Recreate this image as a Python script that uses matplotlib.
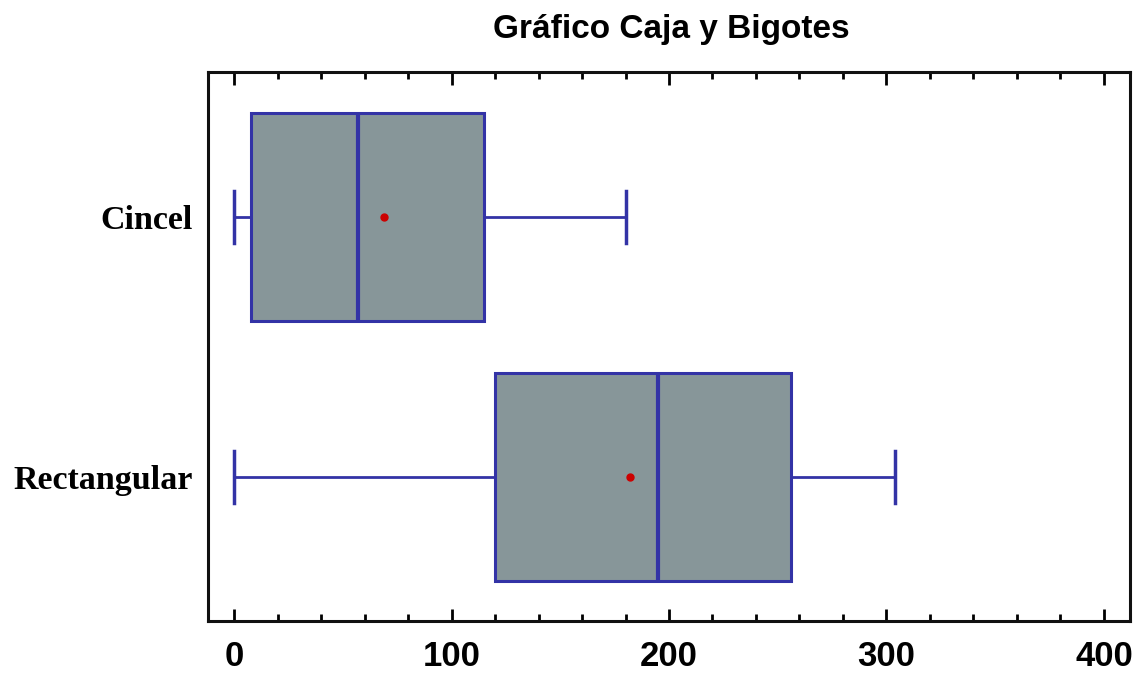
import matplotlib
matplotlib.use("Agg")
import matplotlib.pyplot as plt
from matplotlib.ticker import MultipleLocator

# box-plot summary
groups = ["Rectangular", "Cincel"]
whisker_low = [0, 0]
q1 = [120, 8]
medians = [195, 57]
q3 = [256, 115]
whisker_high = [304, 180]
means = [182, 69]

stats = []
for i, name in enumerate(groups):
    stats.append({
        "label": name,
        "whislo": whisker_low[i],
        "q1": q1[i],
        "med": medians[i],
        "q3": q3[i],
        "whishi": whisker_high[i],
        "mean": means[i],
        "fliers": [],
    })

blue = "#3333a6"
gray = "#879699"

fig = plt.figure(figsize=(11.43, 6.87), dpi=100)
ax = fig.add_axes([208 / 1143, 1 - 621 / 687, (1130 - 208) / 1143, (621 - 72) / 687])

ax.bxp(stats, positions=[1, 2], widths=0.8, capwidths=0.2, vert=False,
       patch_artist=True, showmeans=True,
       boxprops=dict(facecolor=gray, edgecolor=blue, linewidth=2.2),
       medianprops=dict(color=blue, linewidth=3),
       whiskerprops=dict(color=blue, linewidth=2),
       capprops=dict(color=blue, linewidth=2.5),
       meanprops=dict(marker="o", markersize=5, markerfacecolor="#cc0000",
                      markeredgecolor="#cc0000"))

ax.set_xlim(-12, 412)
ax.set_ylim(0.447, 2.556)
ax.xaxis.set_major_locator(MultipleLocator(100))
ax.xaxis.set_minor_locator(MultipleLocator(20))
ax.tick_params(axis="x", which="both", direction="in", top=True, bottom=True,
               width=2, labelsize=25, pad=14)
ax.tick_params(axis="x", which="major", length=9)
ax.tick_params(axis="x", which="minor", length=5)
ax.tick_params(axis="y", which="both", length=0, pad=11)
for lab in ax.get_xticklabels():
    lab.set_fontfamily("Liberation Sans")
    lab.set_fontweight("bold")
ax.set_yticks([1, 2])
ax.set_yticklabels(groups, fontfamily="Liberation Serif", fontweight="bold",
                   fontsize=24.5)
for sp in ax.spines.values():
    sp.set_linewidth(2.2)
    sp.set_color("#111111")

fig.text(671 / 1143, 1 - 38 / 687, "Gráfico Caja y Bigotes", ha="center",
         va="baseline", fontsize=24, fontweight="bold",
         fontfamily="Liberation Sans")

fig.savefig("out.png", dpi=100)
